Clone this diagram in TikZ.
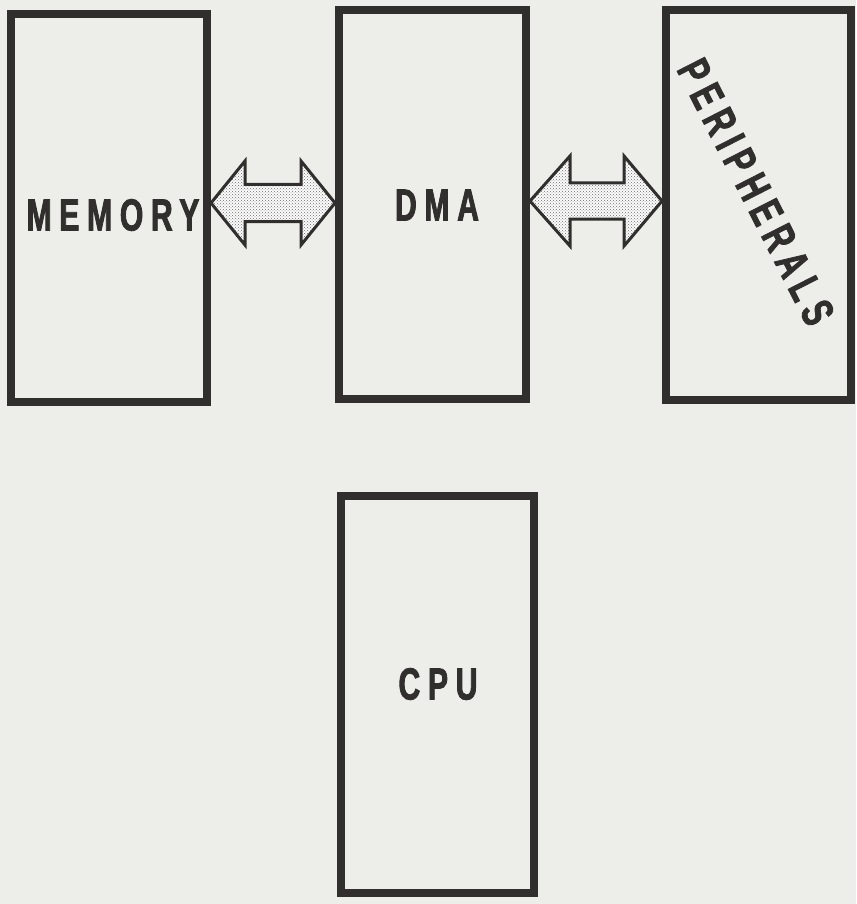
\documentclass[tikz,border=0pt]{standalone}
\usepackage{fontspec}
\newfontfamily\labfont{Liberation Sans Bold}[FakeStretch=0.67,LetterSpace=17,FakeBold=1.8]
\usetikzlibrary{patterns,calc}
\definecolor{bg}{HTML}{EDEDEA}
\definecolor{ink}{HTML}{302F2D}
\begin{document}
\begin{tikzpicture}[x=1pt,y=-1pt,
  box/.style={draw=ink, line width=8pt, rectangle, inner sep=0pt},
  lab/.style={text=ink, inner sep=0pt, font=\labfont\fontsize{45}{45}\selectfont},
  dblarrow/.style={draw=ink, line width=3pt, line join=miter,
    preaction={fill=white!85!bg}, pattern=crosshatch dots, pattern color=ink!70}]
\useasboundingbox (0,0) rectangle (856,904);
\fill[bg] (0,0) rectangle (856,904);
% boxes
\node[box, minimum width=196pt, minimum height=388pt] (mem) at (109,208) {};
\node[box, minimum width=187pt, minimum height=389pt] (dma) at (432.5,204.5) {};
\node[box, minimum width=185pt, minimum height=390pt] (per) at (758.5,205) {};
\node[box, minimum width=193pt, minimum height=397pt] (cpu) at (437.5,694.5) {};
% labels
\node[lab] (memt) at (113,215) {MEMORY};
\node[lab] (dmat) at (437,205) {DMA};
\node[lab] (cput) at (438,684) {CPU};
\node[lab, rotate=-63] (pert) at (756,192) {PERIPHERALS};
% arrow heights
\coordinate (ay1) at (0,203);
\coordinate (ay2) at (0,201);
% arrows
\draw[dblarrow] let \p1=(mem.east |- ay1), \p2=(dma.west |- ay1) in
  (\x1,\y1) -- (\x1+34pt,\y1+42pt) -- (\x1+34pt,\y1+18.5pt) -- (\x2-34pt,\y1+18.5pt)
  -- (\x2-34pt,\y1+42pt) -- (\x2,\y1) -- (\x2-34pt,\y1-42pt) -- (\x2-34pt,\y1-18.5pt)
  -- (\x1+34pt,\y1-18.5pt) -- (\x1+34pt,\y1-42pt) -- cycle;
\draw[dblarrow] let \p1=(dma.east |- ay2), \p2=(per.west |- ay2) in
  (\x1,\y1) -- (\x1+40pt,\y1+45pt) -- (\x1+40pt,\y1+18pt) -- (\x2-38pt,\y1+18pt)
  -- (\x2-38pt,\y1+45pt) -- (\x2,\y1) -- (\x2-38pt,\y1-45pt) -- (\x2-38pt,\y1-18pt)
  -- (\x1+40pt,\y1-18pt) -- (\x1+40pt,\y1-45pt) -- cycle;
\end{tikzpicture}
\end{document}
